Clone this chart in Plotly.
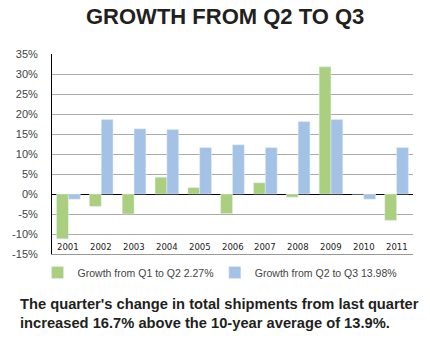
import plotly.graph_objects as go

years = ["2001","2002","2003","2004","2005","2006","2007","2008","2009","2010","2011"]
q1_q2 = [-11.2, -3.1, -5.0, 4.2, 1.6, -4.9, 2.8, -0.8, 31.8, 0.0, -6.6]
q2_q3 = [-1.3, 18.6, 16.3, 16.1, 11.6, 12.3, 11.6, 18.1, 18.6, -1.3, 11.6]
tick_vals = [-15, -10, -5, 0, 5, 10, 15, 20, 25, 30, 35]
tick_text = [f"{v}%" for v in tick_vals]

green = "#a9cf7f"
blue = "#a4c2e5"

fig = go.Figure()
fig.add_trace(go.Bar(x=years, y=q1_q2, name="Growth from Q1 to Q2 2.27%", marker_color=green,
                     legend="legend"))
fig.add_trace(go.Bar(x=years, y=q2_q3, name="Growth from Q2 to Q3 13.98%", marker_color=blue,
                     legend="legend2"))

leg_font = dict(family="Liberation Sans", size=10.5, color="#444")
fig.update_layout(
    width=430, height=343,
    margin=dict(l=44, r=17, t=54, b=89),
    paper_bgcolor="white", plot_bgcolor="white",
    barmode="group", bargap=0.28, bargroupgap=0,
    showlegend=True,
    legend=dict(orientation="h", x=-0.04, y=-0.02, xanchor="left", yanchor="top",
                font=leg_font, itemwidth=30, bgcolor="rgba(0,0,0,0)"),
    legend2=dict(orientation="h", x=0.451, y=-0.02, xanchor="left", yanchor="top",
                 font=leg_font, itemwidth=30, bgcolor="rgba(0,0,0,0)"),
    font=dict(family="Liberation Sans", color="#333"),
)
fig.update_xaxes(
    type="category", showline=True, linecolor="#999", linewidth=1,
    ticks="", showticklabels=False, showgrid=False,
)
fig.update_yaxes(
    range=[-15, 35], tickvals=tick_vals, ticktext=tick_text,
    showgrid=True, gridcolor="#aaaaaa", gridwidth=1,
    zeroline=True, zerolinecolor="#000", zerolinewidth=1,
    showline=True, linecolor="#000", linewidth=1,
    tickfont=dict(family="Liberation Sans", size=11, color="#444"),
    ticklabelstandoff=11,
)
for i, yr in enumerate(years):
    fig.add_annotation(text=yr, x=i, y=-15, xref="x", yref="y", yanchor="bottom",
                       yshift=0, showarrow=False,
                       font=dict(family="DejaVu Sans Condensed, Liberation Sans Narrow, Liberation Sans",
                                 size=9.5, color="#222"))
fig.add_annotation(text="<b>GROWTH FROM Q2 TO Q3</b>", xref="paper", yref="paper",
                   x=0.5, y=1, yshift=38, xshift=-8, xanchor="center", yanchor="middle", showarrow=False,
                   font=dict(family="Liberation Sans", size=22, color="#231f20"))
fig.add_annotation(text="<b>The quarter's change in total shipments from last quarter<br>increased 16.7% above the 10-year average of 13.9%.</b>",
                   xref="paper", yref="paper", x=0, y=0, xshift=-34, yshift=-40,
                   xanchor="left", yanchor="top", align="left", showarrow=False,
                   font=dict(family="Liberation Sans", size=14.7, color="#231f20"))
fig.write_html("out.html")
